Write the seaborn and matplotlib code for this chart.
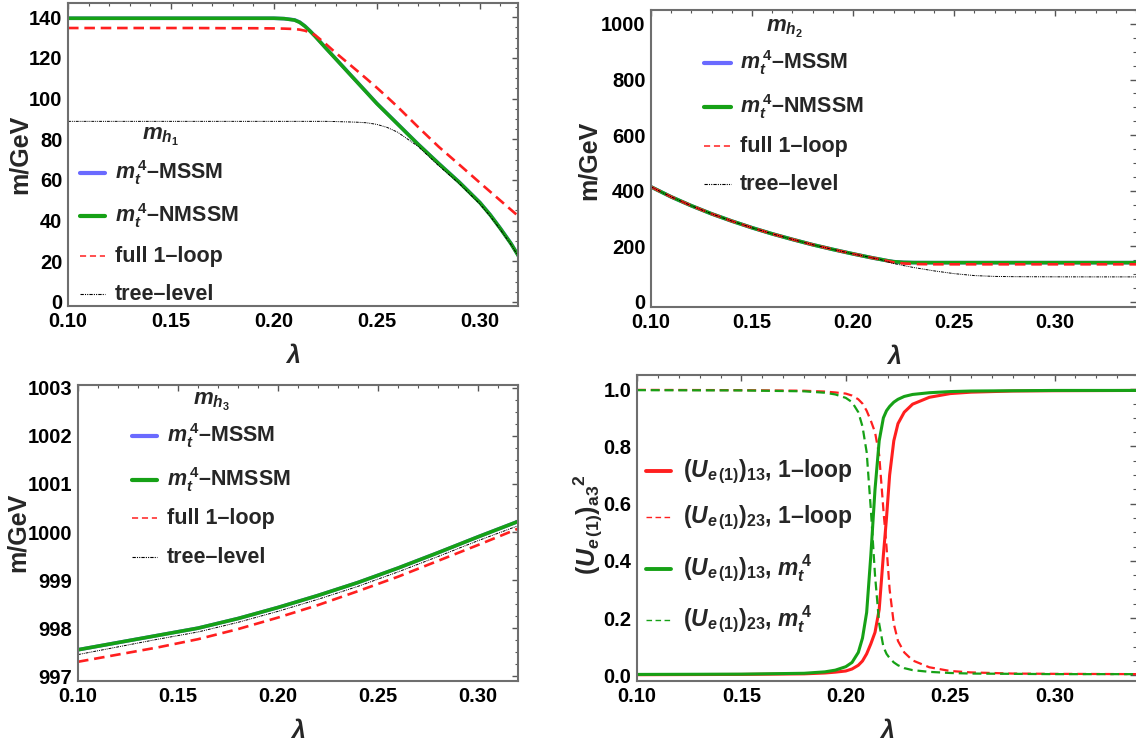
import numpy as np
import pandas as pd
import matplotlib
matplotlib.use('Agg')
import matplotlib.pyplot as plt
import seaborn as sns
from matplotlib.ticker import MultipleLocator
from matplotlib.lines import Line2D

sns.set_theme(style='white')
plt.rcParams['font.family'] = ['Liberation Sans', 'DejaVu Sans']
plt.rcParams['font.weight'] = 'bold'
plt.rcParams['axes.labelweight'] = 'bold'
plt.rcParams['mathtext.fontset'] = 'custom'
plt.rcParams['mathtext.rm'] = 'Liberation Sans:bold'
plt.rcParams['mathtext.it'] = 'Liberation Sans:bold:italic'
plt.rcParams['mathtext.bf'] = 'Liberation Sans:bold'

BLUE = '#6a6aff'
GREEN = '#16a116'
RED = '#ff1f1f'

# ---- m_h1 (top left) ----
lam1 = [0.10, 0.12, 0.14, 0.16, 0.18, 0.19, 0.20, 0.205, 0.21, 0.2125, 0.215, 0.2175,
        0.22, 0.225, 0.23, 0.24, 0.245, 0.25, 0.255, 0.26, 0.265, 0.27, 0.28, 0.29,
        0.30, 0.305, 0.31, 0.315, 0.32]
mh1_nmssm = [139.5, 139.5, 139.5, 139.5, 139.5, 139.5, 139.5, 139.3, 138.6, 137.5, 135.6, 133.2,
             130.6, 125.0, 119.5, 108.5, 103.0, 97.5, 92.5, 87.5, 82.5, 77.5, 68.0, 58.8,
             48.8, 42.8, 36.0, 28.8, 20.5]
mh1_mssm = [139.5, 139.5, 139.5, 139.5, 139.5, 139.5, 139.5, 139.3, 138.7, 137.6, 135.7, 133.3,
            130.7, 125.1, 119.6, 108.6, 103.1, 97.6, 92.6, 87.6, 82.6, 77.6, 68.1, 58.9,
            48.9, 42.9, 36.1, 28.9, 20.6]
mh1_loop = [134.7, 134.7, 134.7, 134.7, 134.6, 134.6, 134.5, 134.4, 134.2, 133.9, 133.4, 132.5,
            131.2, 127.0, 122.5, 114.0, 109.7, 105.3, 100.7, 96.0, 91.0, 86.0, 76.3, 67.5,
            58.6, 54.2, 49.8, 45.4, 41.0]
mh1_tree = [88.8, 88.8, 88.8, 88.8, 88.8, 88.8, 88.8, 88.8, 88.8, 88.8, 88.8, 88.8,
            88.8, 88.8, 88.7, 88.4, 88.1, 87.3, 85.8, 83.5, 80.0, 76.5, 67.0, 58.2,
            48.2, 42.2, 35.5, 28.4, 20.3]

# ---- m_h2 (top right) ----
lam2 = [0.10, 0.11, 0.12, 0.13, 0.14, 0.15, 0.16, 0.17, 0.18, 0.19, 0.20, 0.21, 0.2134,
        0.217, 0.22, 0.225, 0.23, 0.24, 0.25, 0.26, 0.27, 0.28, 0.30, 0.32, 0.34]
mh2_nmssm = [414, 378, 346, 317, 291, 267, 245, 225, 206, 189, 173, 158, 153.5,
             148.5, 145, 142.5, 141.7, 141.5, 141.5, 141.5, 141.5, 141.5, 141.5, 141.5, 141.5]
mh2_mssm = mh2_nmssm
mh2_loop = [414, 378, 346, 317, 291, 267, 245, 225, 206, 189, 173, 158, 153.5,
            147.5, 142.5, 138.5, 136.5, 135.6, 135.5, 135.5, 135.5, 135.5, 135.5, 135.5, 135.5]
mh2_tree = [414, 378, 346, 317, 291, 267, 245, 225, 206, 189, 173, 158, 153,
            145, 138.5, 131, 124, 112, 102, 95, 92, 91, 90.5, 90.3, 90.3]

# ---- m_h3 (bottom left) ----
lam3 = [0.10, 0.12, 0.14, 0.16, 0.18, 0.20, 0.22, 0.24, 0.26, 0.28, 0.30, 0.32]
mh3_nmssm = [997.55, 997.70, 997.85, 998.00, 998.20, 998.43, 998.68, 998.95, 999.25, 999.57, 999.90, 1000.22]
mh3_mssm = mh3_nmssm
mh3_loop = [997.30, 997.45, 997.60, 997.77, 997.98, 998.22, 998.48, 998.77, 999.07, 999.40, 999.73, 1000.07]
mh3_tree = [997.45, 997.61, 997.77, 997.92, 998.12, 998.35, 998.60, 998.87, 999.17, 999.49, 999.82, 1000.13]

# ---- mixing (bottom right) ----
lam4 = [0.10, 0.15, 0.18, 0.19, 0.195, 0.20, 0.203, 0.206, 0.208, 0.21, 0.212, 0.214,
        0.216, 0.218, 0.2195, 0.221, 0.223, 0.225, 0.228, 0.232, 0.24, 0.25, 0.26,
        0.28, 0.30, 0.34]
u13_mt4 = [0.003, 0.004, 0.007, 0.012, 0.018, 0.030, 0.045, 0.080, 0.13, 0.22, 0.42, 0.65,
           0.82, 0.90, 0.925, 0.94, 0.955, 0.965, 0.975, 0.982, 0.988, 0.992, 0.994,
           0.995, 0.996, 0.996]
u23_mt4 = [0.997, 0.996, 0.993, 0.988, 0.982, 0.970, 0.955, 0.920, 0.87, 0.78, 0.58, 0.35,
           0.18, 0.10, 0.075, 0.06, 0.045, 0.035, 0.025, 0.018, 0.012, 0.008, 0.006,
           0.005, 0.004, 0.004]
u13_loop = [0.002, 0.003, 0.005, 0.008, 0.011, 0.015, 0.022, 0.035, 0.05, 0.075, 0.11, 0.15,
            0.23, 0.42, 0.55, 0.70, 0.82, 0.88, 0.92, 0.948, 0.972, 0.985, 0.99,
            0.994, 0.995, 0.996]
u23_loop = [0.998, 0.997, 0.995, 0.992, 0.989, 0.985, 0.978, 0.965, 0.95, 0.925, 0.89, 0.85,
            0.77, 0.58, 0.45, 0.30, 0.18, 0.12, 0.08, 0.052, 0.028, 0.015, 0.01,
            0.006, 0.005, 0.004]

mass_labels = [r'$m_t^{\,4}$–MSSM', r'$m_t^{\,4}$–NMSSM', 'full 1–loop', 'tree–level']
mix_labels = [r'$(U_{e\,(1)})_{13}$, 1–loop', r'$(U_{e\,(1)})_{23}$, 1–loop',
              r'$(U_{e\,(1)})_{13}$, $m_t^{\,4}$', r'$(U_{e\,(1)})_{23}$, $m_t^{\,4}$']

W, H = 1136, 744
fig = plt.figure(figsize=(W / 100, H / 100), dpi=100)

TREE_LS = (0, (3, 1, 1, 1, 1, 1))
DASH_LS = (0, (4, 2.2))


def make_ax(x0, y0, x1, y1):
    return fig.add_axes([x0 / W, 1 - y1 / H, (x1 - x0) / W, (y1 - y0) / H])


def style_ax(ax, xlim, ylim, ymajor, yminor, ylabel, ylab_xy):
    ax.set_xlim(*xlim)
    ax.set_ylim(*ylim)
    ax.xaxis.set_major_locator(MultipleLocator(0.05))
    ax.xaxis.set_minor_locator(MultipleLocator(0.01))
    ax.yaxis.set_major_locator(MultipleLocator(ymajor))
    ax.yaxis.set_minor_locator(MultipleLocator(yminor))
    ax.tick_params(which='both', direction='in', top=True, right=True, colors='#555555',
                   labelcolor='black', labelsize=14.5, pad=4)
    ax.tick_params(which='major', length=4, width=1)
    ax.tick_params(which='minor', length=2, width=0.8)
    for s in ax.spines.values():
        s.set_color('#6e6e6e')
        s.set_linewidth(1.5)
    ax.set_xlabel(r'$\lambda$', fontsize=18, labelpad=10)
    ax.set_ylabel(ylabel, fontsize=18)
    ax.yaxis.set_label_coords(*ylab_xy)


def mass_panel(ax, lam, mssm, nmssm, loop, tree):
    sns.lineplot(x=lam, y=mssm, ax=ax, color=BLUE, linewidth=2.6)
    sns.lineplot(x=lam, y=nmssm, ax=ax, color=GREEN, linewidth=2.6)
    sns.lineplot(x=lam, y=loop, ax=ax, color=RED, linewidth=1.9, linestyle=DASH_LS)
    sns.lineplot(x=lam, y=tree, ax=ax, color='black', linewidth=0.7, linestyle=TREE_LS)


def px_legend(hx0, hx1, tx, rows, styles, labels, fs, title=None):
    # legend drawn in figure pixel positions
    for y, (c, lw, ls), lab in zip(rows, styles, labels):
        fig.add_artist(Line2D([hx0 / W, hx1 / W], [1 - y / H, 1 - y / H],
                              color=c, lw=lw, ls=ls, transform=fig.transFigure))
        fig.text(tx / W, 1 - (y + 6) / H, lab, fontsize=fs, fontweight='bold',
                 ha='left', va='baseline')
    if title is not None:
        (ttx, tty, ttl) = title
        fig.text(ttx / W, 1 - tty / H, ttl, fontsize=fs + 0.5, ha='left', va='baseline')


mass_styles = [(BLUE, 3, '-'), (GREEN, 3, '-'), (RED, 1.1, (0, (4, 2.5))),
               ('black', 0.8, TREE_LS)]

# top left: m_h1
ax1 = make_ax(68, 3, 518, 306)
mass_panel(ax1, lam1, mh1_mssm, mh1_nmssm, mh1_loop, mh1_tree)
style_ax(ax1, (0.10, 0.3185), (-2, 147), 20, 5, 'm/GeV', (-0.08, 0.5))
px_legend(80, 105, 115, [173, 216, 256, 294], mass_styles, mass_labels, 15.5,
          (142, 140, r'$m_{h_1}$'))

# top right: m_h2
ax2 = make_ax(651, 10, 1136, 307)
mass_panel(ax2, lam2, mh2_mssm, mh2_nmssm, mh2_loop, mh2_tree)
style_ax(ax2, (0.10, 0.34), (-18, 1050), 200, 50, 'm/GeV', (-0.103, 0.495))
ax2.spines['right'].set_visible(False)
px_legend(704, 731, 740, [63, 107, 146, 184], mass_styles, mass_labels, 15.5,
          (766, 32, r'$m_{h_2}$'))

# bottom left: m_h3
ax3 = make_ax(78, 385, 518, 681)
mass_panel(ax3, lam3, mh3_mssm, mh3_nmssm, mh3_loop, mh3_tree)
style_ax(ax3, (0.10, 0.32), (996.9, 1003.06), 1, 0.25, 'm/GeV', (-0.109, 0.503))
px_legend(132, 157, 167, [436, 480, 518, 557], mass_styles, mass_labels, 15.5,
          (193, 405, r'$m_{h_3}$'))

# bottom right: mixing
ax4 = make_ax(637, 375, 1136, 681)
sns.lineplot(x=lam4, y=u13_loop, ax=ax4, color=RED, linewidth=2.2)
sns.lineplot(x=lam4, y=u23_loop, ax=ax4, color=RED, linewidth=1.6, linestyle=DASH_LS)
sns.lineplot(x=lam4, y=u13_mt4, ax=ax4, color=GREEN, linewidth=2.2)
sns.lineplot(x=lam4, y=u23_mt4, ax=ax4, color=GREEN, linewidth=1.6, linestyle=DASH_LS)
style_ax(ax4, (0.10, 0.339), (-0.02, 1.05), 0.2, 0.05,
         r'$(U_{e\,(1)})_{\mathrm{a3}}{}^{2}$', (-0.064, 0.51))
ax4.spines['right'].set_visible(False)
mix_styles = [(RED, 2.8, '-'), (RED, 1.0, (0, (4, 2.5))),
              (GREEN, 2.8, '-'), (GREEN, 1.0, (0, (4, 2.5)))]
px_legend(646, 671, 683, [471, 517, 569, 620], mix_styles, mix_labels, 16.5)

fig.savefig('out.png', dpi=100)
